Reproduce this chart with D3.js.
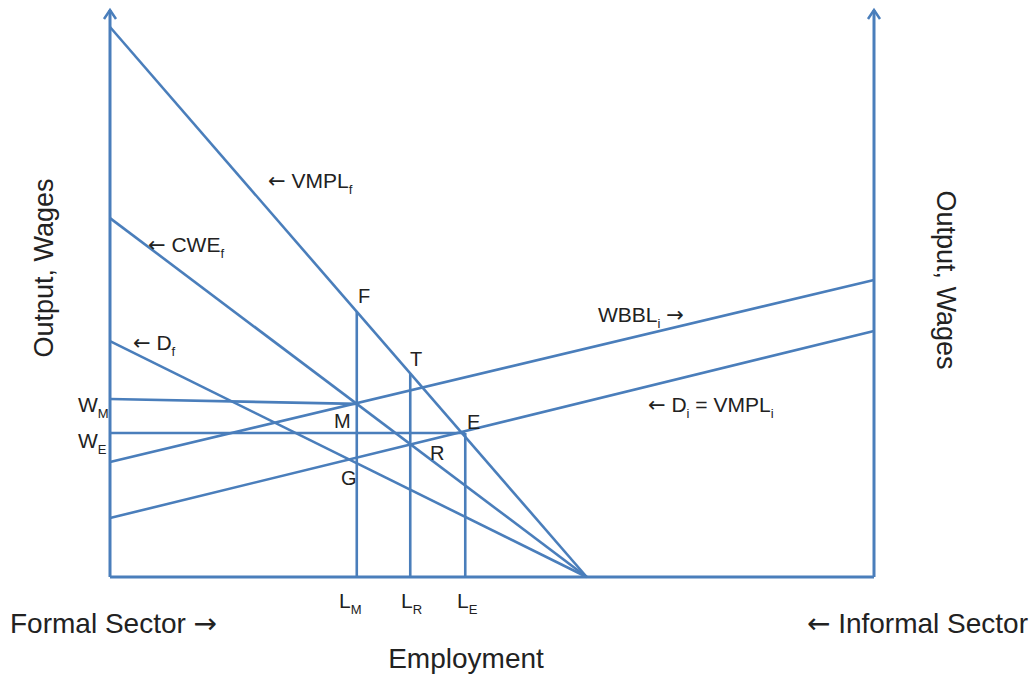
<!DOCTYPE html>
<html>
<head>
<meta charset="utf-8">
<script src="https://cdn.jsdelivr.net/npm/d3@7"></script>
<style>
  body { margin: 0; background: #fff; }
  text { font-family: "Liberation Sans", Arial, sans-serif; fill: #222; }
  .arr { font-family: "Noto Sans", "DejaVu Sans", sans-serif; }
</style>
</head>
<body>
<svg id="chart" width="1034" height="677"></svg>
<script>
// ---- Data (economic units: employment 0..100, output/wages 0..100) ----
const formalLines = [            // downward sloping formal-sector curves: y-intercept, x-intercept
  { name: "VMPLf", y0: 97.0, x1: 62.4 },
  { name: "CWEf",  y0: 63.3, x1: 62.4 },
  { name: "Df",    y0: 41.6, x1: 62.4 }
];
const informalLines = [          // upward sloping informal-sector curves: y at left axis, y at right axis
  { name: "WBBLi", yL: 20.3, yR: 52.4 },
  { name: "Di",    yL: 10.4, yR: 43.4 }
];
const employmentLevels = { LM: 32.3, LR: 39.3, LE: 46.5 };
const wageLevels = { WM: 31.4, WE: 25.4 };

const color = "#4a7ebb";
const svg = d3.select("#chart");
const x = d3.scaleLinear().domain([0, 100]).range([110, 874]);
const y = d3.scaleLinear().domain([0, 100]).range([577, 10]);

const vmpl = v => formalLines[0].y0 * (1 - v / formalLines[0].x1);
const cwe  = v => formalLines[1].y0 * (1 - v / formalLines[1].x1);

function seg(x1, y1, x2, y2, w) {
  svg.append("line")
    .attr("x1", x(x1)).attr("y1", y(y1)).attr("x2", x(x2)).attr("y2", y(y2))
    .attr("stroke", color).attr("stroke-width", w || 2.6).attr("stroke-linecap", "butt");
}

// axes
seg(0, 0, 100, 0, 3);
seg(0, 0, 0, 100, 3);
seg(100, 0, 100, 100, 3);
[0, 100].forEach(v => {
  const px = x(v), py = y(100);
  svg.append("path")
    .attr("d", `M${px - 6},${py + 9} L${px},${py} L${px + 6},${py + 9}`)
    .attr("fill", "none").attr("stroke", color).attr("stroke-width", 2.5)
    .attr("stroke-linejoin", "miter");
});

formalLines.forEach(l => seg(0, l.y0, l.x1, 0));
informalLines.forEach(l => seg(0, l.yL, 100, l.yR));

seg(0, wageLevels.WM, employmentLevels.LM, cwe(employmentLevels.LM));
seg(0, wageLevels.WE, employmentLevels.LE, wageLevels.WE);

seg(employmentLevels.LM, 0, employmentLevels.LM, vmpl(employmentLevels.LM));
seg(employmentLevels.LR, 0, employmentLevels.LR, vmpl(employmentLevels.LR));
seg(employmentLevels.LE, 0, employmentLevels.LE, wageLevels.WE);

// ---- text helper: parts = [{t, sub?, arrow?}] ----
function rich(px, py, size, parts, anchor) {
  const t = svg.append("text").attr("x", px).attr("y", py).attr("font-size", size);
  if (anchor) t.attr("text-anchor", anchor);
  let shifted = 0;
  parts.forEach(p => {
    const s = t.append("tspan").text(p.t);
    if (p.arrow) s.attr("class", "arr");
    if (p.sub) {
      s.attr("font-size", size * 0.62).attr("dy", size * 0.28 - shifted);
      shifted = size * 0.28;
    } else if (shifted) {
      s.attr("dy", -shifted);
      shifted = 0;
    }
  });
  return t;
}

const fs = 21;
rich(268, 188, fs, [{ t: "←", arrow: 1 }, { t: " VMPL" }, { t: "f", sub: 1 }]);
rich(148, 252, fs, [{ t: "←", arrow: 1 }, { t: " CWE" }, { t: "f", sub: 1 }]);
rich(133, 350, fs, [{ t: "←", arrow: 1 }, { t: " D" }, { t: "f", sub: 1 }]);
rich(598, 322, fs, [{ t: "WBBL" }, { t: "i", sub: 1 }, { t: " " }, { t: "→", arrow: 1 }]);
rich(648, 412, fs, [{ t: "←", arrow: 1 }, { t: " D" }, { t: "i", sub: 1 }, { t: " = VMPL" }, { t: "i", sub: 1 }]);

rich(78, 412, fs, [{ t: "W" }, { t: "M", sub: 1 }]);
rich(78, 448, fs, [{ t: "W" }, { t: "E", sub: 1 }]);

[["F", 358, 303], ["T", 410, 366], ["M", 334, 428], ["E", 467, 429], ["R", 430, 460], ["G", 341, 485]]
  .forEach(d => rich(d[1], d[2], 20, [{ t: d[0] }]));

rich(339, 608, fs, [{ t: "L" }, { t: "M", sub: 1 }]);
rich(401, 608, fs, [{ t: "L" }, { t: "R", sub: 1 }]);
rich(457, 608, fs, [{ t: "L" }, { t: "E", sub: 1 }]);

rich(10, 633, 28, [{ t: "Formal Sector " }, { t: "→", arrow: 1 }]);
rich(1028, 633, 28, [{ t: "←", arrow: 1 }, { t: " Informal Sector" }], "end");
svg.append("text").attr("x", 466).attr("y", 668).attr("font-size", 28).attr("text-anchor", "middle").text("Employment");

svg.append("text").attr("transform", "translate(53,268) rotate(-90)")
  .attr("font-size", 27).attr("text-anchor", "middle").text("Output, Wages");
svg.append("text").attr("transform", "translate(937,280) rotate(90)")
  .attr("font-size", 27).attr("text-anchor", "middle").text("Output, Wages");
</script>
</body>
</html>
